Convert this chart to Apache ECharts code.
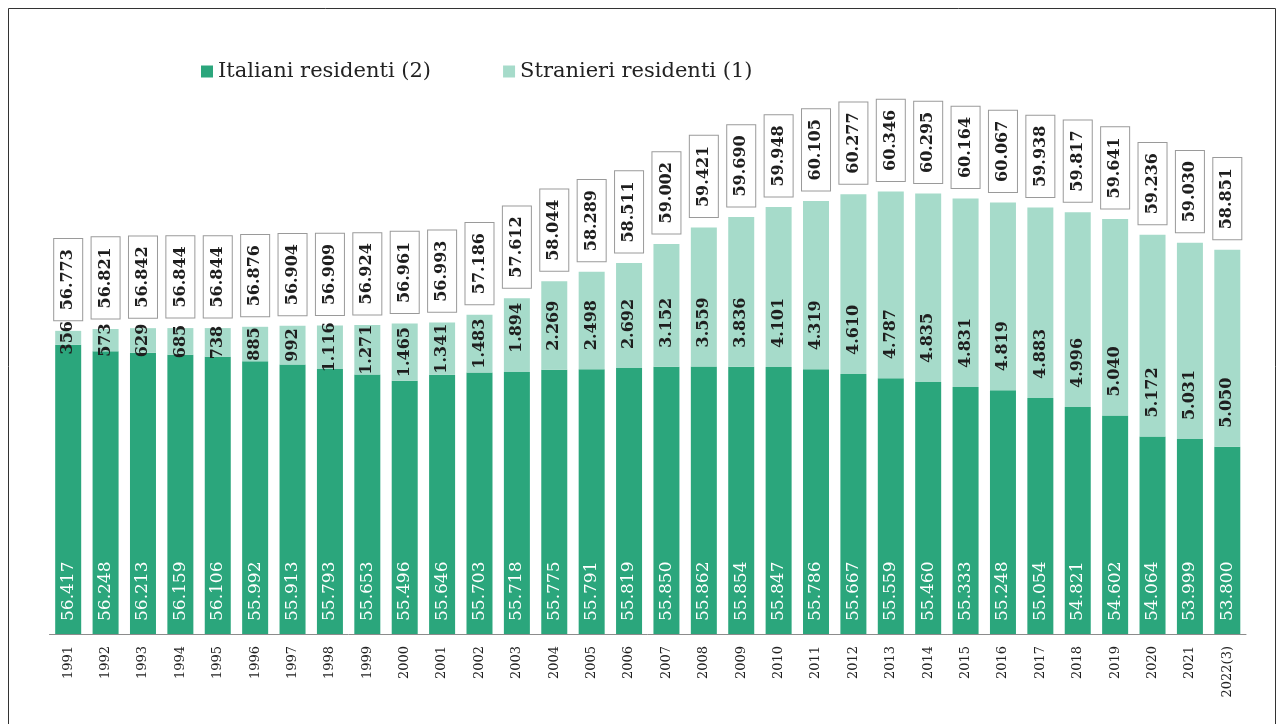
<!DOCTYPE html>
<html>
<head>
<meta charset="utf-8">
<script src="https://cdn.jsdelivr.net/npm/echarts@6/dist/echarts.min.js"></script>
<style>
  html, body { margin: 0; padding: 0; background: #fff; }
  #main { width: 1284px; height: 724px; }
</style>
</head>
<body>
<div id="main"></div>
<script>
// anni (l'ultimo è provvisorio)
var anni = ['1991', '1992', '1993', '1994', '1995', '1996', '1997', '1998', '1999', '2000',
  '2001', '2002', '2003', '2004', '2005', '2006', '2007', '2008', '2009', '2010',
  '2011', '2012', '2013', '2014', '2015', '2016', '2017', '2018', '2019', '2020',
  '2021', '2022(3)']
// migliaia di residenti
var italiani = [56417, 56248, 56213, 56159, 56106, 55992, 55913, 55793, 55653, 55496,
  55646, 55703, 55718, 55775, 55791, 55819, 55850, 55862, 55854, 55847,
  55786, 55667, 55559, 55460, 55333, 55248, 55054, 54821, 54602, 54064,
  53999, 53800]
var stranieri = [356, 573, 629, 685, 738, 885, 992, 1116, 1271, 1465,
  1341, 1483, 1894, 2269, 2498, 2692, 3152, 3559, 3836, 4101,
  4319, 4610, 4787, 4835, 4831, 4819, 4883, 4996, 5040, 5172,
  5031, 5050]
// totali come riportati nel grafico
var totali = [56773, 56821, 56842, 56844, 56844, 56876, 56904, 56909, 56924, 56961,
  56993, 57186, 57612, 58044, 58289, 58511, 59002, 59421, 59690, 59948,
  60105, 60277, 60346, 60295, 60164, 60067, 59938, 59817, 59641, 59236,
  59030, 58851]

var serif = 'DejaVu Serif'

function fmt (v) {
  return String(v).replace(/\B(?=(\d{3})+(?!\d))/g, '.')
}

var stranieriData = stranieri.map(function (v) {
  // i valori piccoli stanno al centro del segmento
  if (v < 1600) {
    return { value: v, label: { position: 'inside', align: 'center' } }
  }
  return v
})

var myChart = echarts.init(document.getElementById('main'))
var option = {
  animation: false,
  color: ['#2ba67c', '#a6dbca'],
  graphic: [{
    type: 'rect',
    shape: { x: 8.5, y: 8.5, width: 1267, height: 730 },
    style: { fill: 'none', stroke: '#333', lineWidth: 1 }
  }],
  legend: {
    data: ['Italiani residenti (2)', 'Stranieri residenti (1)'],
    left: 196,
    top: 56,
    icon: 'rect',
    itemWidth: 12,
    itemHeight: 12,
    itemGap: 72,
    textStyle: {
      fontFamily: serif,
      fontSize: 21,
      color: '#222'
    }
  },
  grid: {
    left: 49.5,
    right: 38,
    top: 127,
    bottom: 90
  },
  xAxis: {
    type: 'category',
    data: anni,
    axisLine: { lineStyle: { color: '#8c8c8c' } },
    axisTick: { length: 5, lineStyle: { color: '#a07a84' } },
    axisLabel: {
      rotate: 90,
      margin: 12,
      fontFamily: serif,
      fontSize: 13,
      color: '#222'
    }
  },
  yAxis: {
    type: 'value',
    min: 49000,
    max: 62000,
    show: false,
    splitLine: { show: false }
  },
  series: [
    {
      name: 'Italiani residenti (2)',
      type: 'bar',
      stack: 'res',
      barWidth: 26,
      data: italiani,
      label: {
        show: true,
        position: 'insideBottom',
        distance: 13,
        rotate: 90,
        align: 'left',
        verticalAlign: 'middle',
        fontFamily: serif,
        fontSize: 17,
        color: '#fff',
        formatter: function (p) { return fmt(p.value) }
      }
    },
    {
      name: 'Stranieri residenti (1)',
      type: 'bar',
      stack: 'res',
      barWidth: 26,
      data: stranieriData,
      label: {
        show: true,
        position: 'insideBottom',
        distance: 19,
        rotate: 90,
        align: 'left',
        verticalAlign: 'middle',
        fontFamily: serif,
        fontWeight: 'bold',
        fontSize: 16,
        color: '#1e1e1e',
        formatter: function (p) { return fmt(p.value) }
      }
    },
    {
      name: 'Totale',
      type: 'line',
      data: totali,
      symbol: 'circle',
      symbolSize: 1,
      showAllSymbol: true,
      itemStyle: { color: 'rgba(0,0,0,0)' },
      lineStyle: { width: 0, opacity: 0 },
      silent: true,
      z: 5,
      label: {
        show: true,
        position: 'top',
        distance: 10,
        rotate: 90,
        align: 'left',
        verticalAlign: 'middle',
        fontFamily: serif,
        fontWeight: 'bold',
        fontSize: 16,
        color: '#1e1e1e',
        backgroundColor: '#fff',
        borderColor: '#9a9a9a',
        borderWidth: 1,
        padding: [7, 10, 5, 10],
        formatter: function (p) { return fmt(p.value) }
      }
    }
  ]
}
myChart.setOption(option)
</script>
</body>
</html>
